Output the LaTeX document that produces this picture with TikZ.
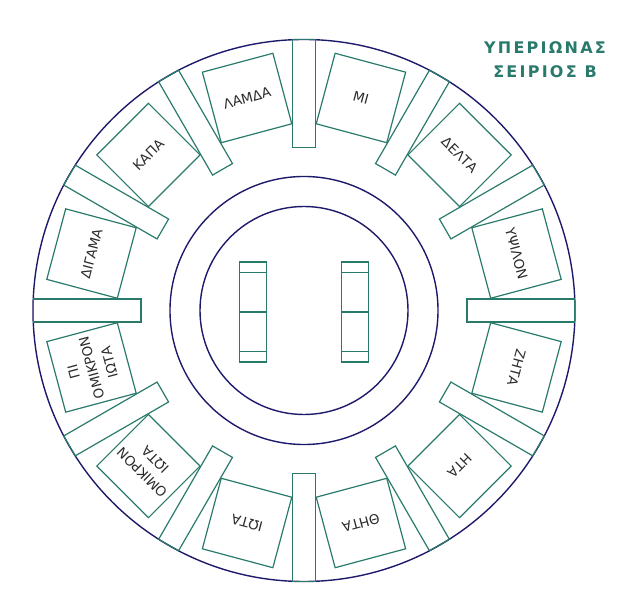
\documentclass[tikz,border=0pt]{standalone}
\usepackage{fontspec}
\setmainfont{DejaVu Sans}
\newfontfamily\titlefont[LetterSpace=14]{DejaVu Sans Bold}
\usepackage{tikz}
\usetikzlibrary{positioning, calc}

\definecolor{ringblue}{HTML}{1E1A6B}
\definecolor{cellteal}{HTML}{2A7A6C}
\definecolor{labelgray}{HTML}{2B2B2B}

\begin{document}
\begin{tikzpicture}[
    x=1pt, y=1pt,
    ring_line/.style={draw=ringblue, line width=1.4pt},
    cell_box/.style={rectangle, draw=cellteal, line width=1.2pt, minimum size=73pt, inner sep=0pt,
      text=labelgray, align=center, font=\fontsize{13.5}{18.5}\selectfont},
    wall_bar/.style={rectangle, draw=cellteal, line width=1.2pt, minimum width=107.8pt,
      minimum height=23pt, inner sep=0pt},
    pillar/.style={rectangle, draw=cellteal, line width=1.3pt, minimum width=27pt,
      minimum height=100pt, inner sep=0pt},
    title_text/.style={text=cellteal, align=center, font=\titlefont\fontsize{16}{24}\selectfont}
  ]
    \useasboundingbox (0,0) rectangle (640,610);
    \coordinate (C) at (304,299.5);

    % rings
    \draw[ring_line] (C) circle (271);
    \draw[ring_line] (C) circle (134);
    \draw[ring_line] (C) circle (104);

    % walls between the cells
    \foreach \a [count=\i] in {0,30,...,330}
      \node[wall_bar, rotate=\a] (wall\i) at ($(C)+(\a:216.9)$) {};

    % cells
    \foreach \a/\t [count=\i] in {105/ΛΑΜΔΑ, 75/ΜΙ, 45/ΔΕΛΤΑ, 15/ΥΨΙΛΟΝ, -15/ΖΗΤΑ,
        -45/ΗΤΑ, -75/ΘΗΤΑ, -105/ΙΩΤΑ, -135/{ΟΜΙΚΡΟΝ\\ΙΩΤΑ},
        -165/{ΠΙ\\ΟΜΙΚΡΟΝ\\ΙΩΤΑ}, 165/ΔΙΓΑΜΑ, 135/ΚΑΠΑ}
      \node[cell_box, rotate=\a-90] (cell\i) at ($(C)+(\a:220)$) {\t};

    % the two pillars in the middle
    \node[pillar] (pillar_l) at ($(C)+(-51,-1.5)$) {};
    \node[pillar] (pillar_r) at ($(C)+(51,-1.5)$) {};
    \foreach \p in {pillar_l, pillar_r} {
      \draw[cellteal, line width=1.3pt] ([yshift=-11pt]\p.north west) -- ([yshift=-11pt]\p.north east);
      \draw[cellteal, line width=1.3pt] (\p.west) -- (\p.east);
      \draw[cellteal, line width=1.3pt] ([yshift=11pt]\p.south west) -- ([yshift=11pt]\p.south east);
    }

    \node[title_text] (title) at (545,550) {ΥΠΕΡΙΩΝΑΣ\\ΣΕΙΡΙΟΣ Β};
  \end{tikzpicture}
\end{document}
